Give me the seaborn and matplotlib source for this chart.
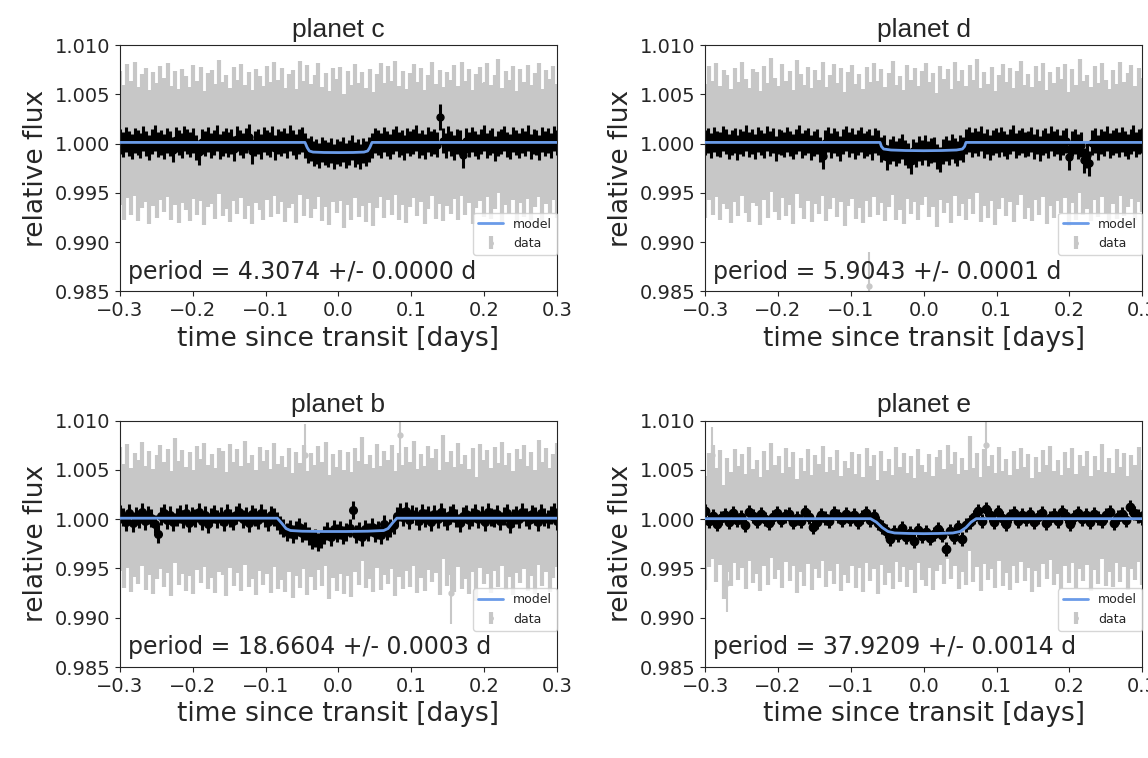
import numpy as np
import matplotlib.pyplot as plt
import seaborn as sns
from matplotlib.ticker import FormatStrFormatter

planets = ["c", "d", "b", "e"]
periods = ["4.3074", "5.9043", "18.6604", "37.9209"]
period_errs = ["0.0000", "0.0001", "0.0003", "0.0014"]

# raw (unbinned) flux, offset from 1 in units of 5e-5
grey_c = [12, -18, 25, -8, 30, -22, 5, 17, -27, 9,
          -14, 21, -3, 28, -19, 11, -25, 16, 2, -21,
          24, -9, 19, -30, 7, 14, -16, 33, -11, 4,
          -24, 20, -6, 26, -17, 10, -28, 15, 1, -20,
          22, -12, 29, -7, 18, -23, 6, 13, -26, 31,
          -10, 23, -15, 3, 27, -21, 8, -29, 17, -4,
          20, -35, 11, -18, 26, -13, 9, -24, 16, -31,
          5, 28, -14, 21, -8, 32, -19, 12, -25, 7,
          25, -11, 18, -27, 3, 30, -16, 14, -22, 10,
          -6, 23, -20, 29, -9, 15, -28, 6, 19, -13,
          27, -17, 4, 36, -23, 11, -7, 22, -30, 16,
          -12, 24, -18, 8, 28, -26, 13, -5, 21, -15]
grey_d = [-15, 22, -8, 27, -20, 13, 4, -26, 18, -11,
          30, -5, -23, 16, 9, -29, 21, -14, 38, -2,
          -19, 25, -10, 12, -27, 33, 6, -17, 20, -24,
          14, -7, 29, -21, 3, 26, -13, 17, -31, 10,
          23, -16, 5, -25, 19, -12, 28, -9, 15, -22,
          8, 31, -18, 2, -28, 24, -6, 18, -20, 11,
          27, -12, 7, -33, 21, -4, 16, -26, 29, -10,
          13, -19, 24, -7, 35, -23, 9, -15, 20, -30,
          4, 26, -11, 17, -24, 12, 32, -17, 6, -21,
          22, -8, 28, -27, 10, -14, 19, -5, 25, -32,
          15, -18, 36, -9, 3, -22, 21, -13, 27, -6,
          -25, 14, -16, 30, -11, 8, 23, -20, 17, -3]
grey_b = [20, -14, 27, -22, 9, -6, 31, -18, 13, -25,
          4, 24, -11, 17, -29, 38, -8, 15, -20, 11,
          -26, 22, -3, 29, -16, 7, -23, 19, 12, -30,
          26, -9, 16, -19, 33, -12, 5, -27, 21, -7,
          14, -24, 28, -15, 2, -21, 18, -33, 10, -13,
          25, -28, 8, -17, 23, -10, 30, -36, 6, -20,
          15, -26, 11, -31, 19, -8, 41, -14, 4, -22,
          27, -18, 13, -5, 24, -29, 9, -16, 20, -11,
          32, -24, 7, -19, 22, -2, 17, -27, 45, -9,
          12, -21, 28, -15, 5, -25, 18, -40, 26, -6,
          14, -23, 21, -12, 30, -17, 8, -28, 16, -4,
          25, -19, 11, -26, 34, -10, 19, -22, 6, 29]
grey_e = [-28, 18, 35, -12, 24, -46, 9, -20, 27, -8,
          16, -25, 31, -14, 5, -30, 22, -17, 38, -6,
          13, -23, 29, -10, 20, -34, 8, -19, 26, -27,
          15, -4, 32, -21, 11, -16, 25, -29, 3, -13,
          21, -24, 17, -31, 28, -9, 14, -36, 23, -18,
          6, -26, 30, -11, 19, -22, 12, -33, 27, -7,
          -20, 16, -28, 10, 24, -15, 35, -5, 21, -25,
          9, -17, 52, -12, 18, -30, 26, -8, 14, -23,
          31, -19, 7, -27, 22, -14, 29, -10, 16, -32,
          11, -21, 25, -6, 33, -18, 4, -26, 20, -13,
          28, -24, 15, -9, 23, -29, 12, -16, 36, -20,
          8, -22, 27, -11, 19, -28, 14, -7, 30, -17]
grey_err = [0.0068, 0.0068, 0.0063, 0.0058]

# isolated raw points far from the band (time [d], flux)
outlier_t_c = [-0.11, 0.20]
outlier_f_c = [1.0025, 1.0028]
outlier_t_d = [-0.075]
outlier_f_d = [0.9856]
outlier_t_b = [-0.046, 0.085, 0.155]
outlier_f_b = [1.0065, 1.0085, 0.9925]
outlier_t_e = [-0.29, -0.27, 0.085]
outlier_f_e = [1.0065, 0.9935, 1.0075]

# binned flux, offset from 1 in units of 1e-4
binned_c = [2, -1, 4, 0, -3, 3, 1, -2, 5, 0,
            -4, 2, 6, -1, 1, -3, 3, 0, -6, 4,
            1, -2, 5, 2, -1, 3, -4, -9, 2, 0,
            4, -2, 1, 6, -3, 0, 3, -1, 2, -5,
            5, 1, -2, 3, 7, -8, 0, 2, -3, 4,
            1, -1, 5, -4, 2, 0, 3, -2, 6, 1,
            -3, 2, 4, -2, -7, -5, -10, -8, -12, -6,
            -9, -11, -7, -13, -8, -10, -6, -12, -9, -4,
            -11, -8, -13, -7, -10, -6, -2, 3, 1, -2,
            4, 0, -3, 2, 5, -1, 1, -4, 3, 0,
            2, 6, -2, 1, -3, 4, 0, 2, -1, 27,
            3, -2, 5, 0, -4, 2, 1, -12, 3, -1,
            4, 0, -3, 2, 6, -2, 1, 3, -5, 0,
            2, 5, -1, -3, 4, 1, -2, 3, 0, 6,
            -3, 2, 1, -4, 4, 0, 3, -2, 5, 1]
binned_d = [1, 3, -2, 4, 0, -1, 5, 2, -3, 1,
            3, -4, 2, 0, 6, -1, 2, -3, 4, 1,
            -2, 5, 0, 3, -5, 2, 1, -1, 4, 0,
            -3, 2, 6, -2, 1, 3, -4, 0, 2, -6,
            -13, 1, 4, -2, 3, 0, -5, 2, 5, -1,
            3, -3, 1, 4, -2, 0, 2, -4, 3, 1,
            -6, -4, -14, -8, -5, -10, -7, -3, -9, -12,
            -18, -8, -11, -5, -9, -4, -10, -7, -6, -13,
            -16, -8, -5, -9, -3, -7, -10, -4, -6, 2,
            4, -1, 3, 0, 5, -2, 2, -4, 1, 3,
            -1, 4, 0, -3, 2, 6, -2, 1, 3, -1,
            0, 4, -3, 2, -5, 1, 3, -2, 5, 0,
            2, -4, 1, 3, -14, 0, 2, -3, -1, -17,
            -12, -20, 1, 3, -4, 2, 0, 5, -2, 1,
            3, -1, 4, 0, -3, 2, 6, -1, 2, 3]
binned_b = [5, 2, -3, 6, -4, 3, 0, 7, -2, 4,
            1, -5, -15, 3, 6, -1, 4, -3, 2, 5,
            0, 6, -4, 3, 1, 7, -2, 4, -5, 2,
            5, 0, 3, -3, 6, 1, -2, 4, 7, 0,
            3, -4, 5, 2, -1, 6, 1, -3, 4, 2,
            -2, -6, -9, -13, -10, -15, -11, -8, -14, -12,
            -17, -21, -19, -23, -20, -16, -12, -18, -10, -14,
            -11, -16, -13, -9, 9, -15, -12, -18, -10, -13,
            -8, -14, -11, -16, -5, -12, -9, -6, 3, 7,
            2, 8, -1, 5, 3, -2, 6, 1, 4, -3,
            5, 0, 7, 2, -2, 4, 6, 1, -4, 3,
            5, -1, 2, 6, 0, 4, -3, 7, 2, 1,
            5, -2, 3, 6, -5, 1, 4, 0, 7, 2,
            -1, 5, 3, -3, 6, 2, 0, 4, 7, -2]
binned_e = [8, -2, 3, -5, 1, 4, -3, 6, -1, 2,
            -6, 7, 3, -2, 5, 0, -4, 2, 6, -1,
            3, 5, -3, 1, -2, 7, 2, -8, -3, 4,
            1, -2, 6, 3, -1, 5, 0, 4, -3, 2,
            6, -1, 3, -4, -8, -12, -20, -13, -16, -9,
            -18, -14, -22, -11, -17, -13, -19, -15, -10, -16,
            -30, -12, -18, -8, -20, -6, -3, 2, 8, -2,
            10, 4, -3, 7, 1, -5, 3, 6, -2, 4,
            0, 5, -3, 2, 6, -4, 1, 4, -2, 7,
            3, -5, 2, 6, 0, 4, -3, 5, 1, -2,
            4, 7, -4, 2, 5, -1, 12, 6, 3, 1]
binned_err = [0.0013, 0.0013, 0.0009, 0.0007]
binned_ms = [5, 5, 5.5, 6]

# transit model knots
model_t_c = [-0.3, -0.046, -0.043, -0.040, -0.035, -0.02, 0.0, 0.02, 0.035, 0.040, 0.043, 0.046, 0.3]
model_f_c = [1.00012, 1.00012, 0.99960, 0.99925, 0.99914, 0.99910, 0.99909,
             0.99910, 0.99914, 0.99925, 0.99960, 1.00012, 1.00012]
model_t_d = [-0.3, -0.060, -0.058, -0.055, -0.045, -0.025, 0.0, 0.025, 0.045, 0.053, 0.056, 0.058, 0.3]
model_f_d = [1.00012, 1.00012, 0.99970, 0.99945, 0.99935, 0.99930, 0.99928,
             0.99930, 0.99935, 0.99945, 0.99970, 1.00012, 1.00012]
model_t_b = [-0.3, -0.084, -0.078, -0.072, -0.066, -0.05, -0.02, 0.01, 0.04, 0.062, 0.068, 0.074, 0.080, 0.3]
model_f_b = [1.0001, 1.0001, 0.9996, 0.99905, 0.99885, 0.99878, 0.99875,
             0.99875, 0.99878, 0.99885, 0.99905, 0.9996, 1.0001, 1.0001]
model_t_e = [-0.3, -0.073, -0.065, -0.057, -0.049, -0.04, -0.02, 0.0, 0.02, 0.04, 0.05, 0.058, 0.065, 0.072, 0.3]
model_f_e = [1.00005, 1.00005, 0.9997, 0.99915, 0.99875, 0.9986, 0.99855, 0.99853,
             0.99855, 0.9986, 0.99875, 0.99915, 0.9997, 1.00005, 1.00005]

greys = [grey_c, grey_d, grey_b, grey_e]
outlier_t = [outlier_t_c, outlier_t_d, outlier_t_b, outlier_t_e]
outlier_f = [outlier_f_c, outlier_f_d, outlier_f_b, outlier_f_e]
binned = [binned_c, binned_d, binned_b, binned_e]
model_t = [model_t_c, model_t_d, model_t_b, model_t_e]
model_f = [model_f_c, model_f_d, model_f_b, model_f_e]

sns.set_style("ticks")
plt.rcParams["font.family"] = ["DejaVu Sans"]

fig, axes = plt.subplots(2, 2, figsize=(11.48, 7.58), dpi=100)
fig.subplots_adjust(left=0.1045, right=0.995, top=0.9406, bottom=0.120,
                    wspace=0.339, hspace=0.524)

grey = "0.78"
for i, ax in enumerate(axes.flat):
    raw = 1 + np.array(greys[i]) * 5e-5
    t_raw = np.linspace(-0.3, 0.3, len(raw))
    binf = 1 + np.array(binned[i]) * 1e-4
    t_bin = np.linspace(-0.3, 0.3, len(binf))

    data = ax.errorbar(t_raw, raw, yerr=grey_err[i], fmt="o", ms=2.5, color=grey,
                       elinewidth=3.0, label="data", zorder=1)
    ax.errorbar(outlier_t[i], outlier_f[i], yerr=grey_err[i] * 0.5, fmt="o", ms=3.5,
                color=grey, elinewidth=1.5, zorder=1.5)
    ax.errorbar(t_bin, binf, yerr=binned_err[i], fmt="o", ms=binned_ms[i],
                color="black", elinewidth=2.2, zorder=2)
    sns.lineplot(x=model_t[i], y=model_f[i], ax=ax, color="#6a9be8", lw=2,
                 label="model", zorder=3)
    model = ax.get_lines()[-1]

    ax.set_xlim(-0.3, 0.3)
    ax.set_ylim(0.985, 1.010)
    ax.set_xticks([-0.3, -0.2, -0.1, 0.0, 0.1, 0.2, 0.3])
    ax.set_yticks([0.985, 0.990, 0.995, 1.000, 1.005, 1.010])
    ax.yaxis.set_major_formatter(FormatStrFormatter("%.3f"))
    ax.tick_params(labelsize=14)
    ax.set_xlabel("time since transit [days]", fontsize=19)
    ax.set_ylabel("relative flux", fontsize=19)
    ax.set_title(f"planet {planets[i]}", fontsize=19, family="Liberation Sans")
    ax.text(0.018, 0.08, f"period = {periods[i]} +/- {period_errs[i]} d",
            transform=ax.transAxes, fontsize=17, va="center")
    ax.legend(handles=[model, data], labels=["model", "data"], fontsize=9,
              loc="lower right", bbox_to_anchor=(1.0, 0.148), borderaxespad=0)

fig.savefig("out.png", dpi=100)
